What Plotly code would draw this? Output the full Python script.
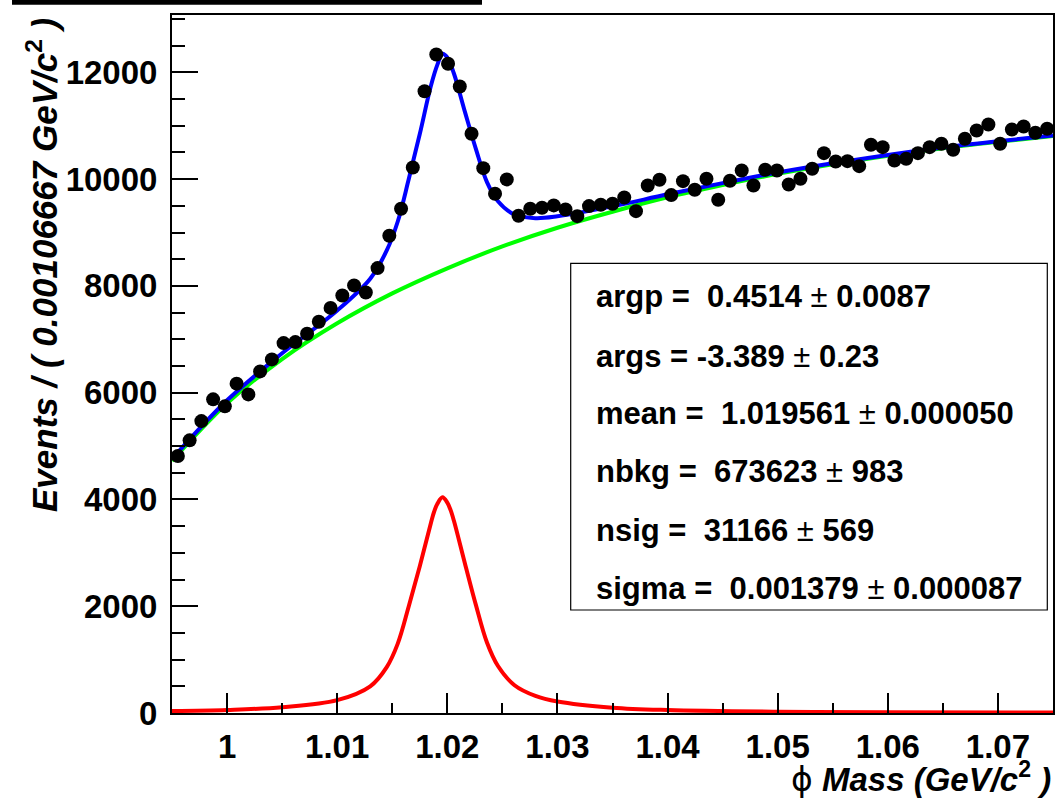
import numpy as np
import plotly.graph_objects as go

# ---------------- data ----------------
X_LO, X_HI, N_BINS = 0.995, 1.075, 75
counts = [4813, 5107, 5468, 5875, 5744, 6169, 5968, 6399, 6624, 6929,
          6948, 7105, 7330, 7588, 7822, 8010, 7878, 8334, 8940, 9446,
          10219, 11648, 12336, 12161, 11736, 10850, 10206, 9727, 9995, 9315,
          9446, 9465, 9508, 9433, 9307, 9495, 9521, 9540, 9657, 9401,
          9882, 9989, 9701, 9963, 9802, 10008, 9614, 9970, 10163, 9882,
          10176, 10163, 9901, 10008, 10195, 10487, 10332, 10337, 10244, 10644,
          10600, 10350, 10382, 10487, 10600, 10663, 10551, 10757, 10912, 11025,
          10663, 10931, 10987, 10869, 10944]

bkg_x = [0.995, 1.000, 1.005, 1.010, 1.015, 1.020, 1.025, 1.030, 1.035,
         1.040, 1.045, 1.050, 1.055, 1.060, 1.065, 1.070, 1.075]
bkg_y = [4720, 5800, 6630, 7300, 7860, 8330, 8740, 9090, 9390,
         9660, 9890, 10100, 10280, 10440, 10580, 10700, 10810]

sig_x = [0.995, 1.000, 1.005, 1.010, 1.0130, 1.0145, 1.0155, 1.0165, 1.0175,
         1.0185, 1.0188, 1.0191, 1.01956, 1.0200, 1.0203, 1.0206, 1.0216,
         1.0226, 1.0236, 1.0246, 1.0261, 1.0280, 1.030, 1.035, 1.040, 1.050,
         1.060, 1.075]
sig_y = [38, 58, 108, 240, 500, 860, 1300, 2000, 2750,
         3550, 3770, 3920, 4040, 3940, 3800, 3600, 2800,
         2020, 1320, 880, 520, 320, 215, 100, 56, 25,
         14, 8]

tot_x = [0.995, 1.000, 1.005, 1.010, 1.0130, 1.0145, 1.0155, 1.0165, 1.0175,
         1.0185, 1.0191, 1.01956, 1.0200, 1.0206, 1.0216, 1.0226, 1.0236,
         1.0246, 1.0261, 1.0280, 1.030, 1.035, 1.040, 1.045, 1.050, 1.055,
         1.060, 1.065, 1.070, 1.075]
tot_y = [4760, 5858, 6738, 7540, 8136, 8664, 9207, 10001, 10845,
         11739, 12145, 12350, 12280, 11979, 11261, 10563, 9945,
         9587, 9337, 9270, 9305, 9490, 9716, 9925, 10125, 10298,
         10454, 10592, 10710, 10818]

x_ticks = [1.00, 1.01, 1.02, 1.03, 1.04, 1.05, 1.06, 1.07]
x_tick_text = ["1", "1.01", "1.02", "1.03", "1.04", "1.05", "1.06", "1.07"]
y_ticks = [0, 2000, 4000, 6000, 8000, 10000, 12000]
y_tick_text = ["0", "2000", "4000", "6000", "8000", "10000", "12000"]

stats_lines = [
    ("argp =  0.4514 ", "0.0087"),
    ("args = -3.389 ", "0.23"),
    ("mean =  1.019561 ", "0.000050"),
    ("nbkg =  673623 ", "983"),
    ("nsig =  31166 ", "569"),
    ("sigma =  0.001379 ", "0.000087"),
]

# ---------------- figure ----------------
FONT = "Liberation Sans, Arial, Helvetica, sans-serif"
W, H = 1057, 799
L, R, T, B = 172, 4, 15, 86
PW, PH = W - L - R, H - T - B

def px2paper_x(px):
    return (px - L) / PW

def py2paper_y(py):
    return (H - B - py) / PH

bin_w = (X_HI - X_LO) / N_BINS
centers = X_LO + bin_w * (np.arange(N_BINS) + 0.5)

fig = go.Figure()
fig.add_trace(go.Scatter(x=bkg_x, y=bkg_y, mode="lines",
                         line=dict(color="#00FF00", width=4, shape="spline")))
fig.add_trace(go.Scatter(x=sig_x, y=sig_y, mode="lines",
                         line=dict(color="#FF0000", width=4, shape="spline")))
fig.add_trace(go.Scatter(x=tot_x, y=tot_y, mode="lines",
                         line=dict(color="#0000FF", width=4, shape="spline")))
fig.add_trace(go.Scatter(x=centers, y=counts, mode="markers",
                         marker=dict(color="black", size=14, line=dict(width=0))))

fig.update_layout(
    width=W, height=H,
    margin=dict(l=L, r=R, t=T, b=B, pad=0, autoexpand=False),
    plot_bgcolor="white", paper_bgcolor="white",
    showlegend=False,
    font=dict(family=FONT, color="black"),
)

fig.update_xaxes(
    range=[X_LO, X_HI], tickvals=x_ticks, ticktext=x_tick_text,
    tickfont=dict(family=FONT, size=33, color="black", weight="bold"),
    ticks="inside", ticklen=20, tickwidth=1.5, tickcolor="black",
    minor=dict(ticks="inside", ticklen=10, tickwidth=1.5, tickcolor="black",
               dtick=0.005, tick0=1.0, showgrid=False),
    showgrid=False, zeroline=False, automargin=False,
    showline=True, linewidth=2, linecolor="black", mirror=True,
    ticklabelstandoff=3,
)
fig.update_yaxes(
    range=[0, 13075], tickvals=y_ticks, ticktext=y_tick_text,
    tickfont=dict(family=FONT, size=33, color="black", weight="bold"),
    ticks="inside", ticklen=26, tickwidth=1.5, tickcolor="black",
    minor=dict(ticks="inside", ticklen=13, tickwidth=1.5, tickcolor="black",
               dtick=500, tick0=0, showgrid=False),
    showgrid=False, zeroline=False, automargin=False,
    showline=True, linewidth=2, linecolor="black", mirror=True,
    ticklabelstandoff=6,
)

# cut-off title bar at the top
fig.add_shape(type="rect", xref="paper", yref="paper",
              x0=px2paper_x(12), x1=px2paper_x(482),
              y0=py2paper_y(4.7), y1=py2paper_y(-2),
              fillcolor="black", line=dict(width=0))

# stats box
fig.add_shape(type="rect", xref="paper", yref="paper",
              x0=px2paper_x(570.7), x1=px2paper_x(1047.3),
              y0=py2paper_y(610), y1=py2paper_y(263.3),
              fillcolor="white", line=dict(color="black", width=1.2),
              layer="above")
row_y = [296.7, 356.0, 413.3, 471.7, 530.0, 588.3]
for (lhs, err), yy in zip(stats_lines, row_y):
    fig.add_annotation(
        xref="paper", yref="paper", x=px2paper_x(594), y=py2paper_y(yy),
        xanchor="left", yanchor="middle", showarrow=False,
        text=f"<b>{lhs}</b>\u00b1 <b>{err}</b>",
        font=dict(family=FONT, size=31, color="black"),
    )

# axis titles
fig.add_annotation(
    xref="paper", yref="paper", x=px2paper_x(42), y=py2paper_y(265),
    xanchor="center", yanchor="middle", textangle=-90, showarrow=False,
    text="<b><i>Events / ( 0.00106667 GeV/c</i><sup>2</sup><i> )</i></b>",
    font=dict(family=FONT, size=35, color="black"),
)
fig.add_annotation(
    xref="paper", yref="paper", x=1.0, y=py2paper_y(777),
    xanchor="right", yanchor="middle", showarrow=False,
    text="<span style=\"font-family:DejaVu Sans\">\u03d5</span> "
         "<b><i>Mass (GeV/c</i><sup>2</sup><i> )</i></b>",
    font=dict(family=FONT, size=33, color="black"),
)

fig.write_html("out.html",
               config={"displayModeBar": False},
               post_script="document.body.style.margin='0';"
                           "document.body.style.padding='0';"
                           "document.body.style.overflow='hidden';")
